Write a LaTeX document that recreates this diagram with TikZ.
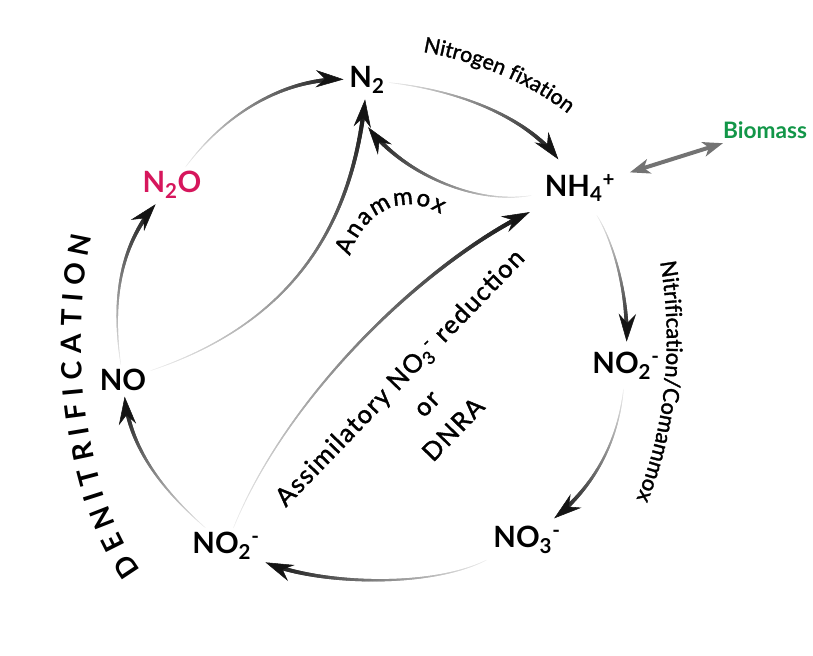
\documentclass[tikz,border=0pt]{standalone}
\usepackage{fontspec}
\setmainfont{Lato}
\newfontfamily\procfont{Lato}[FakeBold=1.5]
\usetikzlibrary{arrows.meta,decorations.markings,decorations.text}

\definecolor{noxred}{RGB}{214,22,92}
\definecolor{biogreen}{RGB}{18,150,72}

\tikzset{
  species/.style={inner sep=4pt, font=\fontsize{22}{24}\selectfont\bfseries},
  fadearrow/.style={
    postaction={decorate, decoration={markings,
      mark=between positions 0 and -12pt step 1pt with {
        \pgfmathsetmacro\fadeT{\pgfkeysvalueof{/pgf/decoration/mark info/distance from start}/\pgfdecoratedpathlength}
        \pgfmathtruncatemacro\fadeC{6+88*\fadeT}
        \pgfmathsetmacro\fadeW{0.3+2.9*\fadeT}
        \draw[line width=\fadeW pt, black!\fadeC] (-1pt,0) -- (1pt,0);}}},
    postaction={decorate, decoration={markings,
      mark=at position 0.999 with {\arrow[black!92]{Stealth[length=21pt,width=13pt,inset=7pt]}}}}},
  biolink/.style={black!55, line width=3pt,
    {Stealth[length=15pt,width=11pt,inset=4pt]}-{Stealth[length=15pt,width=11pt,inset=4pt]}}
}

\begin{document}
\begin{tikzpicture}[x=0.75pt,y=-0.75pt]
\useasboundingbox (0,0) rectangle (813,656);

% species
\node[species] (n2) at (367,80) {N\textsubscript{2}};
\node[species, outer sep=7pt] (nh4) at (580,188) {NH\textsubscript{4}\textsuperscript{+}};
\node[species, outer sep=4pt] (no2r) at (626,366) {NO\textsubscript{2}\textsuperscript{-}};
\node[species, outer sep=2pt] (no3) at (527,540) {NO\textsubscript{3}\textsuperscript{-}};
\node[species] (no2l) at (226,546) {NO\textsubscript{2}\textsuperscript{-}};
\node[species] (no) at (123,380) {NO};
\node[species, text=noxred] (n2o) at (172,185) {N\textsubscript{2}O};
\node[font=\fontsize{17}{19}\selectfont\bfseries, text=biogreen] (biomass) at (765,130) {Biomass};

% outer cycle
\path[fadearrow] (n2) .. controls (470,92) and (530,122) .. (nh4);
\path[fadearrow] (nh4) .. controls (612,240) and (628,290) .. (no2r);
\path[fadearrow] (no2r) .. controls (618,440) and (596,485) .. (no3);
\path[fadearrow] (no3) .. controls (430,588) and (320,585) .. (no2l);
\path[fadearrow] (no2l) .. controls (165,492) and (130,450) .. (no);
\path[fadearrow] (no) .. controls (110,290) and (125,240) .. (n2o);
\path[fadearrow] (n2o) .. controls (230,108) and (290,78) .. (n2);

% inner shortcuts
\path[fadearrow] (no) .. controls (270,330) and (350,250) .. (n2);
\path[fadearrow] (nh4) .. controls (470,205) and (400,170) .. ([shift={(1,28)}]n2.south);
\path[fadearrow] (no2l) .. controls (290,390) and (430,260) .. (nh4);
\draw[biolink] (nh4) -- (biomass);

% process labels
\path[decorate, decoration={text along path, text align=center,
  text={|\fontsize{16}{18}\procfont|Nitrogen fixation}}]
  (410,50) .. controls (470,58) and (532,82) .. (578,122);
\path[decorate, decoration={text along path, text align=center,
  text={|\fontsize{16.5}{18}\procfont|Nitrification/Comammox}}]
  (657,246) .. controls (675,330) and (669,430) .. (630,514);
\path[decorate, decoration={text along path, text align=fit to path,
  text={|\fontsize{18}{20}\procfont|Anammox}}]
  (350,256) .. controls (362,215) and (400,190) .. (441,214);
\path[decorate, decoration={text along path, text align=fit to path,
  text={|\fontsize{21}{23}\selectfont\bfseries|DENITRIFICATION}}]
  (141,570) .. controls (88,500) and (66,350) .. (92,236);
\node[rotate=46, align=center, font=\fontsize{19}{28}\procfont\addfontfeature{LetterSpace=6}] (assim) at (426,403)
  {Assimilatory NO\textsubscript{3}\textsuperscript{-} reduction\\or\\DNRA};

\end{tikzpicture}
\end{document}
